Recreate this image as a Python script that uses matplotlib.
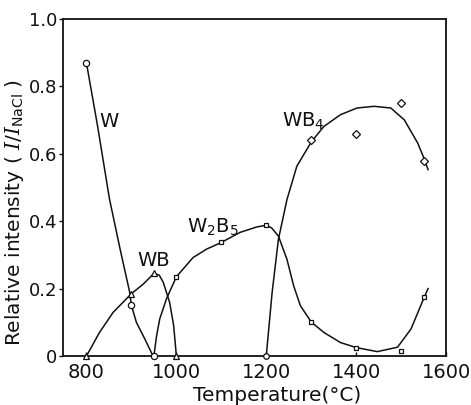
import matplotlib
matplotlib.use("Agg")
import matplotlib.pyplot as plt

INK = "#111111"

# measured points (temperature in degC, relative intensity)
w_temp = [800, 900, 950]
w_int = [0.87, 0.15, 0.0]

wb_temp = [800, 900, 950, 1000]
wb_int = [0.0, 0.185, 0.245, 0.0]

w2b5_temp = [1000, 1100, 1200, 1300, 1400, 1500, 1550]
w2b5_int = [0.235, 0.337, 0.39, 0.10, 0.025, 0.015, 0.176]

wb4_zero_temp = [1200]
wb4_zero_int = [0.0]
wb4_temp = [1300, 1400, 1500, 1550]
wb4_int = [0.64, 0.66, 0.75, 0.58]

# hand-drawn guide curves
w_curve_t = [800, 825, 851, 875, 896, 900, 911, 930, 948]
w_curve_v = [0.869, 0.68, 0.467, 0.316, 0.19, 0.15, 0.10, 0.05, 0.0]

wb_curve_t = [800, 829, 859, 900, 926, 950, 962, 971, 985, 994, 1000]
wb_curve_v = [0.0, 0.07, 0.129, 0.185, 0.213, 0.245, 0.24, 0.218, 0.159, 0.09, 0.0]

w2b5_curve_t = [950, 956, 963, 978, 1000, 1037, 1067, 1100, 1142, 1179, 1200,
                1212, 1227, 1246, 1261, 1276, 1300, 1328, 1365, 1400, 1447,
                1492, 1522, 1552, 1560]
w2b5_curve_v = [0.0, 0.06, 0.11, 0.17, 0.235, 0.292, 0.317, 0.337, 0.367, 0.383, 0.388,
                0.38, 0.356, 0.287, 0.208, 0.149, 0.101, 0.07, 0.04, 0.025, 0.013,
                0.026, 0.08, 0.176, 0.2]

wb4_curve_t = [1200, 1213, 1227, 1246, 1268, 1300, 1328, 1365, 1402, 1440,
               1477, 1507, 1537, 1552, 1560]
wb4_curve_v = [0.0, 0.188, 0.346, 0.464, 0.563, 0.635, 0.681, 0.716, 0.736, 0.741,
               0.736, 0.701, 0.632, 0.583, 0.553]

x_ticks = [800, 1000, 1200, 1400, 1600]
y_ticks = [0, 0.2, 0.4, 0.6, 0.8, 1.0]
y_tick_labels = ["0", "0.2", "0.4", "0.6", "0.8", "1.0"]

plt.rcParams["font.family"] = ["DejaVu Sans"]
plt.rcParams["mathtext.fontset"] = "custom"
plt.rcParams["mathtext.rm"] = "DejaVu Sans"
plt.rcParams["mathtext.it"] = "DejaVu Serif:italic"

fig = plt.figure(figsize=(4.71, 4.05), dpi=100)
ax = fig.add_axes([0.134, 0.121, 0.813, 0.832])

for t, v in [(w_curve_t, w_curve_v), (wb_curve_t, wb_curve_v),
             (w2b5_curve_t, w2b5_curve_v), (wb4_curve_t, wb4_curve_v)]:
    ax.plot(t, v, color=INK, linewidth=1.1, solid_joinstyle="round")

mk = dict(linestyle="none", markerfacecolor="white", markeredgecolor=INK,
          markeredgewidth=0.9, clip_on=False, zorder=3)
ax.plot(w_temp, w_int, marker="o", markersize=4.5, **mk)
ax.plot(wb_temp, wb_int, marker="^", markersize=4, **mk)
ax.plot(w2b5_temp, w2b5_int, marker="s", markersize=3.5, **mk)
ax.plot(wb4_zero_temp, wb4_zero_int, marker="o", markersize=4, **mk)
ax.plot(wb4_temp, wb4_int, marker="D", markersize=3.8, **mk)

lab = dict(color=INK, fontsize=14, ha="center", va="center")
ax.text(851, 0.695, "W", **lab)
ax.text(950, 0.284, "WB", **lab)
ax.text(1082, 0.385, r"W$_2$B$_5$", **lab)
ax.text(1283, 0.70, r"WB$_4$", **lab)

ax.set_xlim(748, 1600)
ax.set_ylim(0, 1.0)
ax.set_xticks(x_ticks)
ax.set_yticks(y_ticks)
ax.set_yticklabels(y_tick_labels)
ax.tick_params(axis="y", direction="out", length=3, width=1.0, labelsize=13,
               colors=INK, pad=1)
ax.tick_params(axis="x", direction="in", length=3, width=1.0, labelsize=14,
               colors=INK, pad=5)
for s in ax.spines.values():
    s.set_linewidth(1.3)
    s.set_color(INK)

ax.set_xlabel("Temperature(\u00b0C)", fontsize=14.5, color=INK)
ax.xaxis.set_label_coords(0.56, -0.09)
ax.set_ylabel(r"Relative intensity ( $I$/$I_{\rm NaCl}$ )", fontsize=14.5, color=INK)
ax.yaxis.set_label_coords(-0.098, 0.425)

fig.savefig("out.png", dpi=100, facecolor="white")
